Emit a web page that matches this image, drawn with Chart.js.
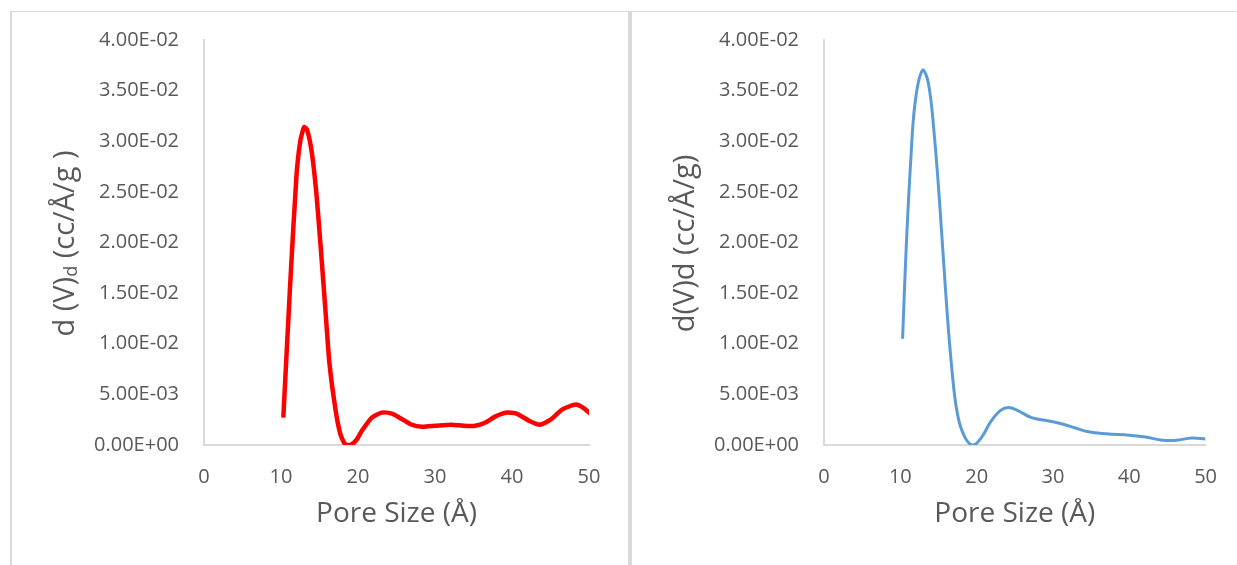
<!DOCTYPE html>
<html>
<head>
<meta charset="utf-8">
<title>Pore size distribution</title>
<script src="https://cdn.jsdelivr.net/npm/chart.js@4.4.1/dist/chart.umd.min.js"></script>
<style>
    html, body {
        margin: 0;
        padding: 0;
        background: #ffffff;
        width: 1237px;
        height: 565px;
        overflow: hidden;
    }
    .frame-top {
        position: absolute;
        left: 10px;
        top: 11px;
        width: 1227px;
        height: 1px;
        background: #d9d9d9;
    }
    .frame-left {
        position: absolute;
        left: 10px;
        top: 11px;
        width: 2px;
        height: 554px;
        background: #d9d9d9;
    }
    .divider {
        position: absolute;
        left: 628px;
        top: 11px;
        width: 4px;
        height: 554px;
        background: #d9d9d9;
    }
    canvas {
        position: absolute;
        top: 13px;
    }
    #chart-a { left: 12px; }
    #chart-b { left: 632px; }
</style>
</head>
<body>
<div class="frame-top"></div>
<div class="frame-left"></div>
<div class="divider"></div>
<canvas id="chart-a" width="616" height="550"></canvas>
<canvas id="chart-b" width="605" height="550"></canvas>
<script>
// values
const poreSizeA = [10.3, 11.2, 12.0, 12.5, 13.0, 13.4, 14.0, 14.6, 15.2, 15.8, 16.3, 17.1, 17.7, 18.3, 19.0, 19.8,
    20.5, 21.8, 23.1, 24.4, 25.4, 27.0, 28.3, 30.1, 32.1, 33.7, 35.2, 36.5, 37.8, 39.3, 40.6, 42.2, 43.6, 45.0, 46.5,
    48.3, 49.4, 50.3];
const dvA = [0.0027, 0.0160, 0.0265, 0.0300, 0.0314, 0.0311, 0.0289, 0.0248, 0.0191, 0.0130, 0.0080, 0.0034, 0.0011,
    0.0001, 0.0000, 0.0005, 0.0014, 0.0027, 0.0032, 0.0031, 0.0027, 0.0020, 0.0018, 0.0019, 0.0020, 0.0019, 0.0019,
    0.0022, 0.0028, 0.0032, 0.0031, 0.0024, 0.0020, 0.0025, 0.0035, 0.0040, 0.0036, 0.0030];

const poreSizeB = [10.3, 10.75, 11.36, 11.97, 12.9, 13.66, 14.43, 15.2, 15.97, 16.73, 17.5, 18.5, 19.55, 20.6, 21.85,
    23.1, 24.15, 25.4, 27.2, 29.3, 31.1, 32.85, 34.65, 36.95, 40.0, 42.1, 44.1, 46.15, 48.2, 50.0];
const dvB = [0.0105, 0.0191, 0.0280, 0.0340, 0.0370, 0.0358, 0.0308, 0.0234, 0.0148, 0.0077, 0.0030, 0.0007, 0.0000,
    0.0007, 0.0023, 0.0034, 0.0037, 0.0034, 0.0027, 0.0024, 0.0021, 0.0017, 0.0013, 0.0011, 0.00096, 0.0008, 0.0005,
    0.00046, 0.0007, 0.0006];

const yTickLabels = ["0.00E+00", "5.00E-03", "1.00E-02", "1.50E-02", "2.00E-02", "2.50E-02", "3.00E-02", "3.50E-02", "4.00E-02"];
const xTickLabels = ["0", "10", "20", "30", "40", "50"];

const textColor = "#595959";
const fontFamily = "'Open Sans', 'Noto Sans', sans-serif";
const titleSize = 28;

// y title drawn by hand so the left one can carry its subscript
const yTitlePlugin = {
    id: "yTitle",
    afterDraw(chart, args, opts) {
        const {ctx, chartArea} = chart;
        const size = opts.size;
        ctx.save();
        ctx.translate(chartArea.left - 130, (chartArea.top + chartArea.bottom) / 2 + 1);
        ctx.rotate(-Math.PI / 2);
        ctx.fillStyle = textColor;
        ctx.textBaseline = "alphabetic";
        ctx.textAlign = "left";
        let total = 0;
        for (const part of opts.parts) {
            ctx.font = `${part.sub ? 18 : size}px ${fontFamily}`;
            total += ctx.measureText(part.text).width;
        }
        let x = -total / 2;
        for (const part of opts.parts) {
            ctx.font = `${part.sub ? 18 : size}px ${fontFamily}`;
            ctx.fillText(part.text, x, part.sub ? 3 : 0);
            x += ctx.measureText(part.text).width;
        }
        ctx.restore();
    }
};

function makeChart(id, xs, ys, color, width, tension, rightPad, titleParts) {
    return new Chart(document.getElementById(id), {
        type: "line",
        data: {
            datasets: [{
                data: xs.map((x, i) => ({x: x, y: ys[i]})),
                borderColor: color,
                borderWidth: width,
                pointRadius: 0,
                fill: false,
                tension: tension
            }]
        },
        options: {
            responsive: false,
            animation: false,
            events: [],
            layout: {padding: {left: 0, top: 27, right: rightPad, bottom: 0}},
            plugins: {
                legend: {display: false},
                tooltip: {enabled: false},
                yTitle: {parts: titleParts, size: 29}
            },
            scales: {
                x: {
                    type: "linear",
                    min: 0,
                    max: 50,
                    afterFit: s => { s.height = 118; },
                    grid: {display: false, drawTicks: false},
                    border: {display: true, color: "#d9d9d9", width: 2},
                    ticks: {
                        stepSize: 10,
                        padding: 20,
                        color: textColor,
                        font: {family: fontFamily, size: 20},
                        callback: (v, i) => xTickLabels[i]
                    },
                    title: {
                        display: true,
                        text: "Pore Size (Å)",
                        color: textColor,
                        font: {family: fontFamily, size: titleSize},
                        padding: {top: 0, bottom: 32}
                    }
                },
                y: {
                    min: 0,
                    max: 0.04,
                    afterFit: s => {
                        s.width = 192;
                        s.paddingTop = 0;
                        s.paddingBottom = 0;
                    },
                    grid: {display: false, drawTicks: false},
                    border: {display: true, color: "#d9d9d9", width: 2},
                    ticks: {
                        stepSize: 0.005,
                        padding: 25,
                        color: textColor,
                        font: {family: fontFamily, size: 20},
                        callback: (v, i) => yTickLabels[i]
                    }
                }
            }
        },
        plugins: [yTitlePlugin]
    });
}

makeChart("chart-a", poreSizeA, dvA, "#ff0000", 4.5, 0.2, 39,
    [{text: "d (V)"}, {text: "d", sub: true}, {text: " (cc/Å/g )"}]);
makeChart("chart-b", poreSizeB, dvB, "#5b9bd5", 3, 0.4, 28,
    [{text: "d(V)d (cc/Å/g)"}]);
</script>
</body>
</html>
